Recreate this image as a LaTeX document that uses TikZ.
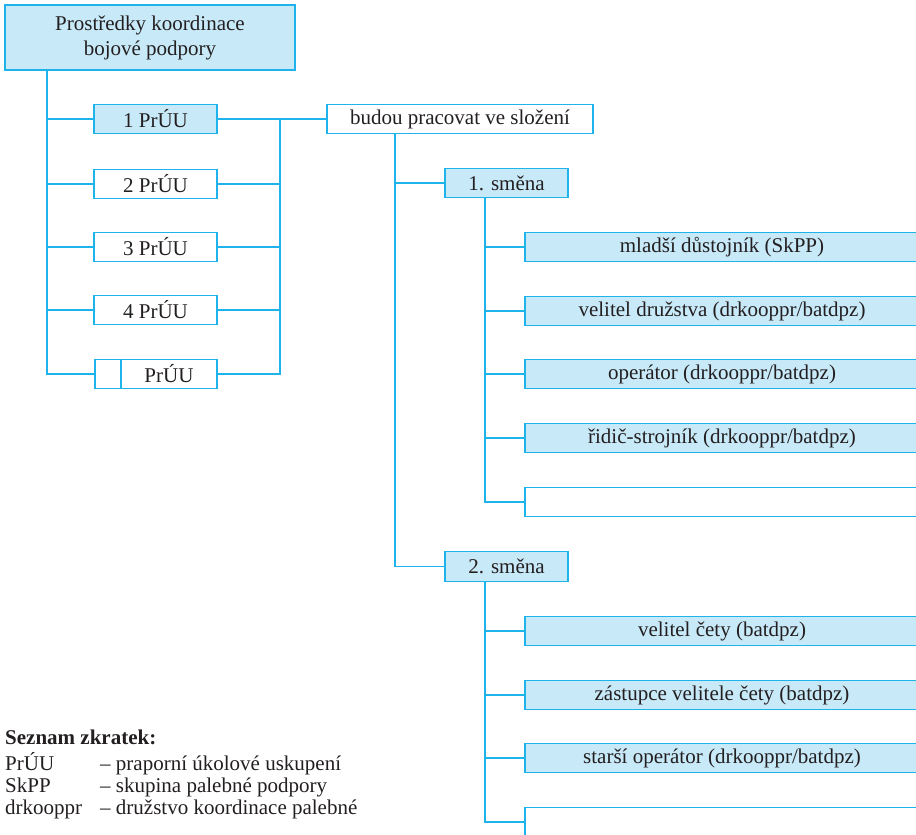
\documentclass[tikz,border=0pt]{standalone}
\usepackage{fontspec}
\setmainfont{Liberation Serif}
\definecolor{linkblue}{RGB}{30,180,235}
\definecolor{boxfill}{RGB}{200,233,248}
\definecolor{inkgray}{RGB}{35,31,32}

\begin{document}
\begin{tikzpicture}[x=1pt, y=-1pt,
        every node/.style={font=\fontsize{21}{25}\selectfont, text=inkgray},
        box/.style={draw=linkblue, line width=1.3pt, minimum height=29.5pt, inner sep=0pt},
        filled/.style={box, fill=boxfill},
        link/.style={draw=linkblue, line width=1.3pt},
        legend/.style={anchor=base west, inner sep=0pt}]

        \useasboundingbox (0,0) rectangle (916,835);
        \clip (0,0) rectangle (916,835);

        \node[filled, minimum width=290pt, minimum height=65pt, align=center] (top) at (150,37.5) {Prostředky koordinace\\bojové podpory};

        \node[filled, minimum width=123pt] (p1) at (155.5,119) {1 PrÚU};
        \node[box, minimum width=123pt] (p2) at (155.5,184) {2 PrÚU};
        \node[box, minimum width=123pt] (p3) at (155.5,247) {3 PrÚU};
        \node[box, minimum width=123pt] (p4) at (155.5,310) {4 PrÚU};
        \node[box, minimum width=26pt] (p5a) at (108,374) {};
        \node[box, minimum width=96pt] (p5) at (169,374) {PrÚU};

        \node[box, minimum width=266pt] (budou) at (460,119) {budou pracovat ve složení};

        \node[filled, minimum width=123pt] (s1) at (506.5,183) {1. směna};
        \node[filled, minimum width=123pt] (s2) at (506.5,566.5) {2. směna};

        \node[filled, minimum width=394pt] (m1) at (722,247) {mladší důstojník (SkPP)};
        \node[filled, minimum width=394pt] (m2) at (722,311) {velitel družstva (drkooppr/batdpz)};
        \node[filled, minimum width=394pt] (m3) at (722,374) {operátor (drkooppr/batdpz)};
        \node[filled, minimum width=394pt] (m4) at (722,438) {řidič-strojník (drkooppr/batdpz)};
        \node[box, minimum width=394pt] (m5) at (722,502) {};

        \node[filled, minimum width=394pt] (n1) at (722,631) {velitel čety (batdpz)};
        \node[filled, minimum width=394pt] (n2) at (722,695) {zástupce velitele čety (batdpz)};
        \node[filled, minimum width=394pt] (n3) at (722,758) {starší operátor (drkooppr/batdpz)};
        \node[box, minimum width=394pt] (n4) at (722,822) {};

        % connectors
        \coordinate (ltrunk) at (47,0);
        \coordinate (rbus) at (280,0);
        \coordinate (btrunk) at (395,0);
        \coordinate (strunk) at (485,0);

        \draw[link] (top.south -| ltrunk) |- (p5a.west);
        \foreach \n in {p1,p2,p3,p4}
            \draw[link] (ltrunk |- \n.west) -- (\n.west);

        \draw[link] (p1.east) -- (budou.west);
        \draw[link] (rbus |- p1.east) |- (p5.east);
        \foreach \n in {p2,p3,p4}
            \draw[link] (\n.east) -- (rbus |- \n.east);

        \draw[link] (budou.south -| btrunk) |- (s2.west);
        \draw[link] (btrunk |- s1.west) -- (s1.west);

        \draw[link] (s1.south -| strunk) |- (m5.west);
        \foreach \n in {m1,m2,m3,m4}
            \draw[link] (strunk |- \n.west) -- (\n.west);

        \draw[link] (s2.south -| strunk) |- (n4.west);
        \foreach \n in {n1,n2,n3}
            \draw[link] (strunk |- \n.west) -- (\n.west);

        % legend
        \node[legend, font=\fontsize{21}{25}\selectfont\bfseries] (lhead) at (5,744) {Seznam zkratek:};
        \node[legend] (a1) at (5,770) {PrÚU};
        \node[legend] (d1) at (100,770) {– praporní úkolové uskupení};
        \node[legend] (a2) at (5,792.5) {SkPP};
        \node[legend] (d2) at (100,792.5) {– skupina palebné podpory};
        \node[legend] (a3) at (5,814.5) {drkooppr};
        \node[legend] (d3) at (100,814.5) {– družstvo koordinace palebné};

\end{tikzpicture}
\end{document}
